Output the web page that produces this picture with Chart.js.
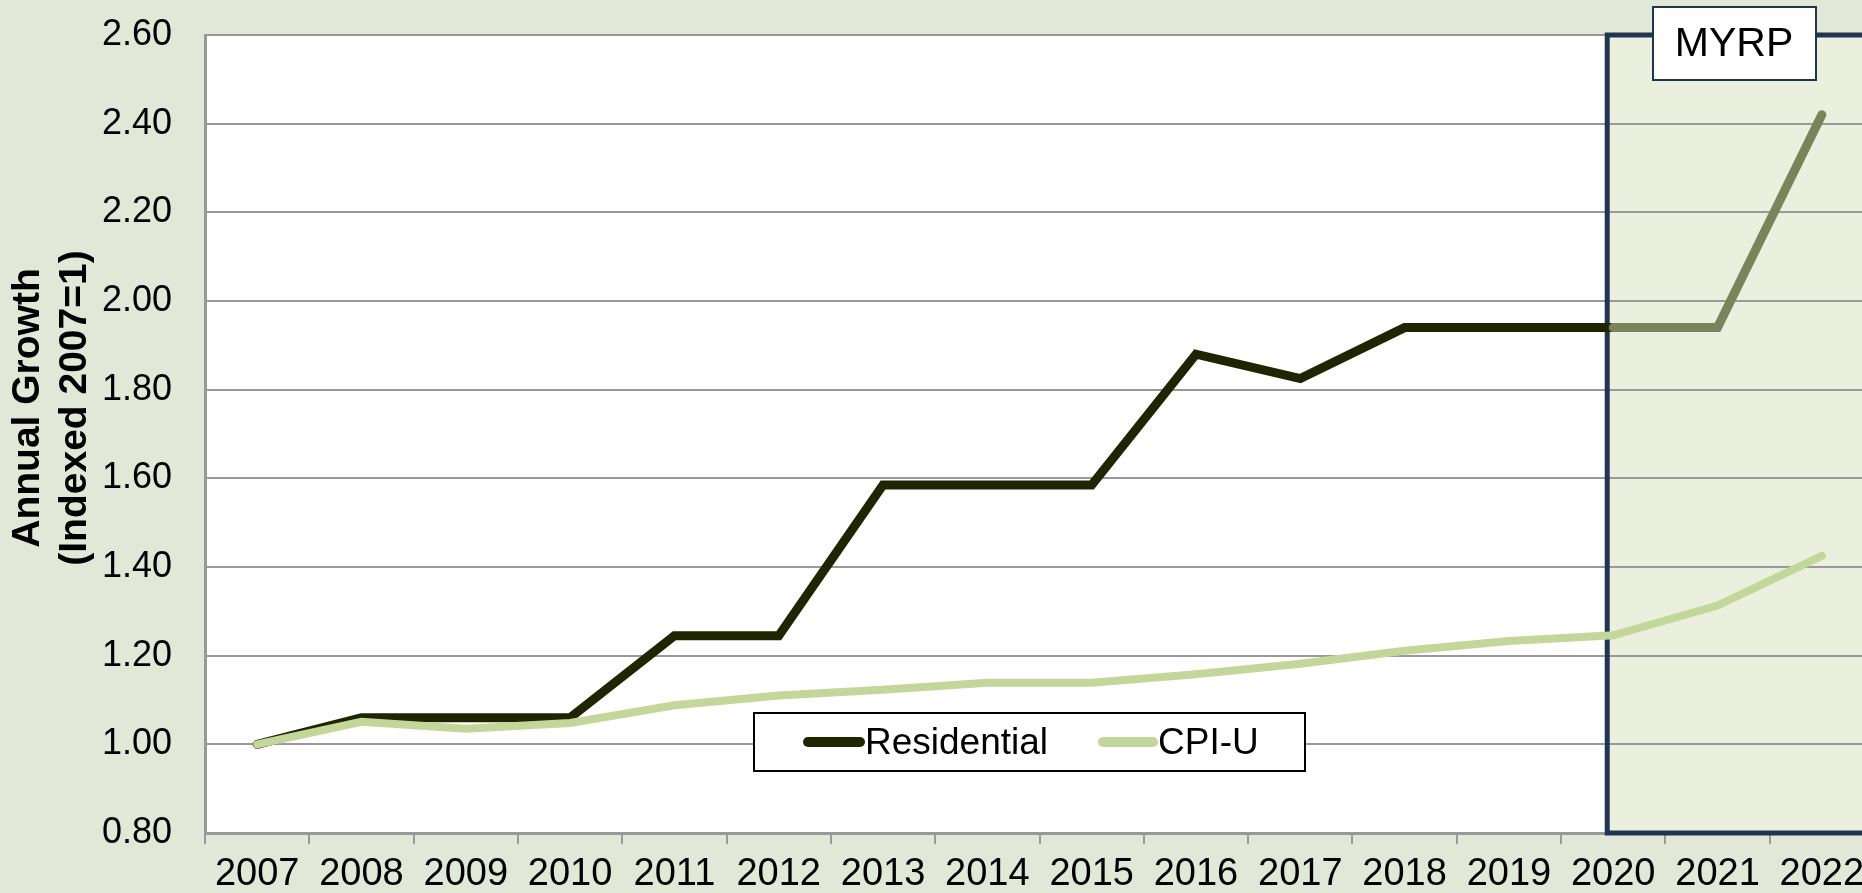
<!DOCTYPE html>
<html>
<head>
<meta charset="utf-8">
<title>Annual Growth</title>
<script src="https://cdn.jsdelivr.net/npm/chart.js@4.4.0/dist/chart.umd.min.js"></script>
<style>
  html, body { margin: 0; padding: 0; overflow: hidden; background: #e2e8d8; }
  #chart { display: block; }
</style>
</head>
<body>
<canvas id="chart" width="1876" height="893"></canvas>
<script>
const years = ["2007", "2008", "2009", "2010", "2011", "2012", "2013", "2014",
  "2015", "2016", "2017", "2018", "2019", "2020", "2021", "2022"];
const residential = [1.00, 1.06, 1.06, 1.06, 1.245, 1.245, 1.585, 1.585,
  1.585, 1.88, 1.825, 1.94, 1.94, 1.94, 1.94, 2.42];
const cpiU = [1.00, 1.051, 1.035, 1.048, 1.088, 1.11, 1.123, 1.139,
  1.139, 1.158, 1.182, 1.211, 1.233, 1.246, 1.313, 1.425];
const yTicks = [0.8, 1.0, 1.2, 1.4, 1.6, 1.8, 2.0, 2.2, 2.4, 2.6];
const myrpStart = "2020";

const font = "'Liberation Sans', Arial, sans-serif";
const navy = "#1f3550";
const darkLine = "#1f2500";
const oliveLine = "#7a845b";
const cpiColor = "#c4d79b";

const myrpIndex = years.indexOf(myrpStart);

// background, plot area, MYRP box, legend and axis title
const decorations = {
  id: "decorations",
  beforeDraw(chart) {
    const { ctx, chartArea: a, scales } = chart;
    const bx = scales.x.getPixelForValue(myrpIndex) - 6;
    ctx.save();
    ctx.fillStyle = "#e2e8d8";
    ctx.fillRect(0, 0, chart.width, chart.height);
    ctx.fillStyle = "#ffffff";
    ctx.fillRect(a.left, a.top, a.right - a.left, a.bottom - a.top);
    ctx.fillStyle = "#ebefde";
    ctx.fillRect(bx, a.top, chart.width - bx + 20, a.bottom - a.top);
    ctx.restore();
  },
  beforeDatasetsDraw(chart) {
    const { ctx, chartArea: a, scales } = chart;
    const bx = scales.x.getPixelForValue(myrpIndex) - 6;
    ctx.save();
    ctx.strokeStyle = navy;
    ctx.lineWidth = 5;
    ctx.strokeRect(bx, a.top, chart.width - bx + 20, a.bottom - a.top);
    ctx.restore();
  },
  afterDraw(chart) {
    const { ctx } = chart;
    ctx.save();

    // MYRP label
    ctx.fillStyle = "#ffffff";
    ctx.fillRect(1653, 7, 163, 73);
    ctx.strokeStyle = navy;
    ctx.lineWidth = 2;
    ctx.strokeRect(1653, 7, 163, 73);
    ctx.fillStyle = "#000000";
    ctx.font = "41px " + font;
    ctx.textAlign = "center";
    ctx.textBaseline = "middle";
    ctx.fillText("MYRP", 1734, 45);

    // legend
    ctx.fillStyle = "#ffffff";
    ctx.fillRect(754, 713, 551, 58);
    ctx.strokeStyle = "#000000";
    ctx.lineWidth = 2;
    ctx.strokeRect(754, 713, 551, 58);
    ctx.lineCap = "round";
    ctx.lineWidth = 10;
    ctx.strokeStyle = darkLine;
    ctx.beginPath();
    ctx.moveTo(808, 742);
    ctx.lineTo(860, 742);
    ctx.stroke();
    ctx.strokeStyle = cpiColor;
    ctx.beginPath();
    ctx.moveTo(1103, 742);
    ctx.lineTo(1153, 742);
    ctx.stroke();
    ctx.fillStyle = "#000000";
    ctx.font = "37px " + font;
    ctx.textAlign = "left";
    ctx.fillText("Residential", 865, 744);
    ctx.fillText("CPI-U", 1158, 744);

    // y axis title
    ctx.translate(0, 408);
    ctx.rotate(-Math.PI / 2);
    ctx.font = "bold 39px " + font;
    ctx.textAlign = "center";
    ctx.fillText("Annual Growth", 0, 28);
    ctx.fillText("(Indexed 2007=1)", 0, 75);
    ctx.restore();
  }
};

new Chart(document.getElementById("chart"), {
  type: "line",
  data: {
    labels: years,
    datasets: [
      {
        label: "Residential",
        data: residential,
        borderColor: darkLine,
        borderWidth: 9,
        pointRadius: 0,
        borderCapStyle: "round",
        order: 2,
        segment: {
          borderColor: (c) => (c.p0DataIndex >= myrpIndex ? oliveLine : darkLine),
        },
      },
      {
        label: "CPI-U",
        data: cpiU,
        borderColor: cpiColor,
        borderWidth: 8,
        pointRadius: 0,
        borderCapStyle: "round",
        order: 1,
      },
    ],
  },
  options: {
    responsive: false,
    animation: false,
    devicePixelRatio: 1,
    layout: { padding: { top: 35, right: 2, left: 0, bottom: 0 } },
    plugins: {
      legend: { display: false },
      tooltip: { enabled: false },
    },
    scales: {
      x: {
        offset: true,
        grid: {
          offset: true,
          drawOnChartArea: false,
          tickLength: 11,
          color: "#999999",
          lineWidth: 2,
        },
        border: { color: "#999999", width: 3 },
        ticks: {
          color: "#000000",
          font: { size: 38, family: font },
          padding: 8,
          maxRotation: 0,
          autoSkip: false,
        },
        afterFit: (s) => { s.height = 60; },
      },
      y: {
        min: yTicks[0],
        max: yTicks[yTicks.length - 1],
        afterBuildTicks: (s) => { s.ticks = yTicks.map((v) => ({ value: v })); },
        grid: {
          color: "#999999",
          lineWidth: 2,
          drawTicks: true,
          tickLength: 33,
          tickColor: "rgba(0,0,0,0)",
        },
        border: { color: "#999999", width: 3 },
        ticks: {
          color: "#000000",
          font: { size: 36, family: font },
          padding: 0,
          callback: (v) => Number(v).toFixed(2),
        },
        afterFit: (s) => { s.width = 205; },
      },
    },
  },
  plugins: [decorations],
});
</script>
</body>
</html>
